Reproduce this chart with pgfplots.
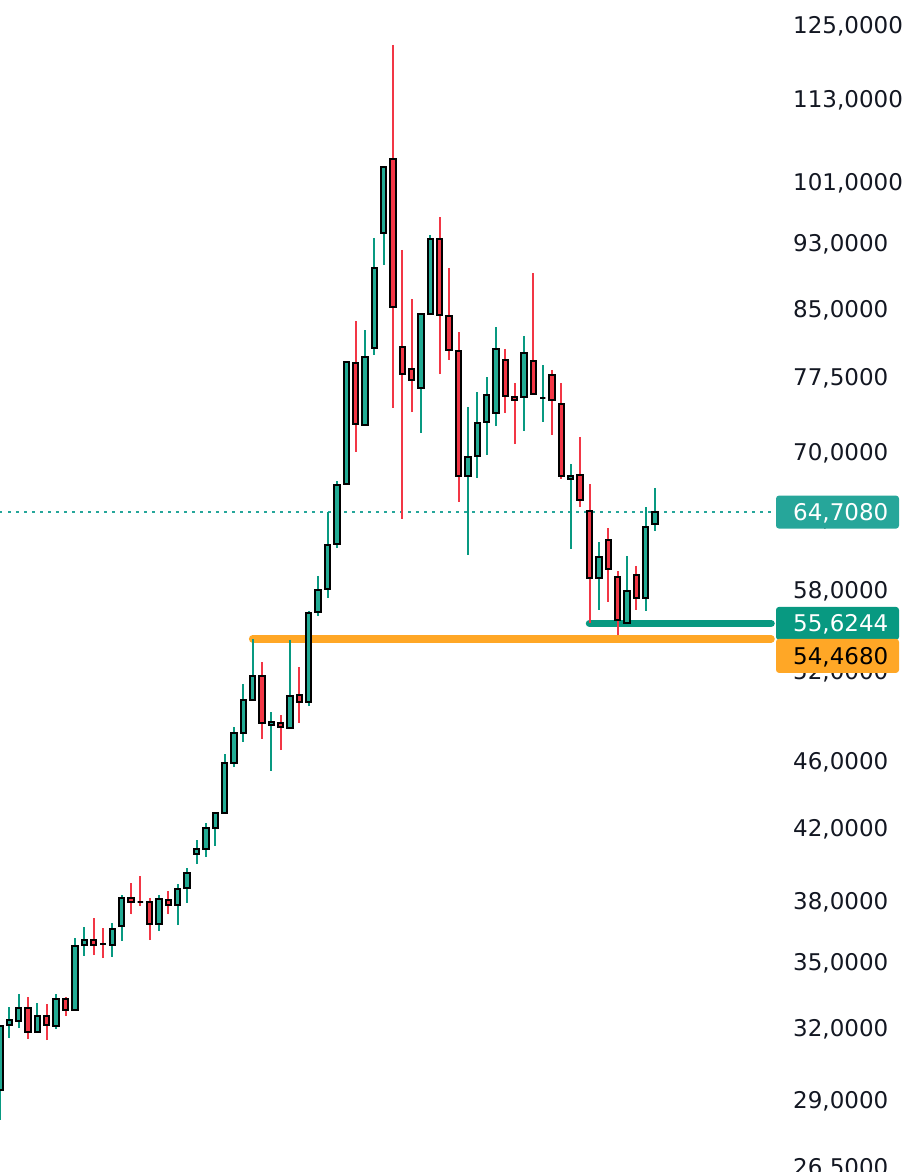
\documentclass[border=0pt]{standalone}
\usepackage{pgfplots}
\pgfplotsset{compat=1.18}
\usepgfplotslibrary{statistics}
\usepackage{fontspec}
\setmainfont{DejaVu Sans}
\definecolor{upfill}{HTML}{22AB94}
\definecolor{upwick}{HTML}{089981}
\definecolor{dnc}{HTML}{F23645}
\definecolor{orng}{HTML}{FFA726}
\definecolor{tickc}{HTML}{131722}
\definecolor{lastc}{HTML}{26A69A}
\pgfplotsset{
  candle/.style={boxplot/draw direction=y, boxplot/box extend=0.57, boxplot/whisker extend=0, draw=black, line width=2pt},
  candleup/.style={candle, fill=upfill, boxplot/every whisker/.style={draw=upwick, line width=2pt}},
  candledn/.style={candle, fill=dnc, boxplot/every whisker/.style={draw=dnc, line width=2pt}},
}
\newcommand{\cu}[5]{\addplot[candleup, boxplot prepared={draw position=#1, lower whisker=#2, lower quartile=#3, median=#4, upper quartile=#4, upper whisker=#5}] coordinates {};}
\newcommand{\cd}[5]{\addplot[candledn, boxplot prepared={draw position=#1, lower whisker=#2, lower quartile=#3, median=#4, upper quartile=#4, upper whisker=#5}] coordinates {};}
\newcommand{\lblfont}{\fontsize{23}{28}\selectfont}
\begin{document}
\begin{tikzpicture}
\begin{axis}[
  name=ax,
  scale only axis, width=920pt, height=1172pt,
  xmin=0, xmax=98.32, ymode=log, ymin=26.40, ymax=129.74,
  axis line style={draw=none}, tick style={draw=none}, xtick=\empty,
  ytick={26.5,29,32,35,38,42,46,52,58,64,70,77.5,85,93,101,113,125},
  yticklabels={{26,5000},{29,0000},{32,0000},{35,0000},{38,0000},{42,0000},{46,0000},{52,0000},{58,0000},{64,0000},{70,0000},{77,5000},{85,0000},{93,0000},{101,0000},{113,0000},{125,0000}},
  yticklabel pos=right,
  yticklabel style={anchor=base west, xshift=-127pt, yshift=-6.1pt, inner sep=0pt, font=\lblfont, text=tickc},
]
\addplot[lastc, line width=2pt, dash pattern=on 2.5pt off 5.5pt] coordinates {(0,64.708) (82.9,64.708)};
\addplot[orng, line width=7.5pt, line cap=round] coordinates {(27,54.468) (82.4,54.468)};
\addplot[upwick, line width=7.5pt, line cap=round] coordinates {(63,55.6244) (82.4,55.6244)};
\cu{0}{28.32}{29.51}{32.19}{32.19}
\cu{1}{31.66}{32.23}{32.45}{33.03}
\cu{2}{32.10}{32.41}{32.98}{33.61}
\cd{3}{31.62}{31.93}{32.98}{33.48}
\cu{4}{31.93}{31.93}{32.63}{33.21}
\cd{5}{31.58}{32.23}{32.63}{33.16}
\cu{6}{32.06}{32.19}{33.39}{33.61}
\cd{7}{32.63}{32.89}{33.39}{33.48}
\cu{8}{32.89}{32.89}{35.88}{36.27}
\cu{9}{35.40}{35.93}{36.17}{36.82}
\cd{10}{35.45}{35.93}{36.17}{37.27}
\cd{11}{35.30}{35.98}{35.98}{36.77}
\cu{12}{35.35}{35.93}{36.72}{37.02}
\cu{13}{36.13}{36.87}{38.30}{38.46}
\cd{14}{37.47}{38.10}{38.30}{39.09}
\cd{15}{37.88}{38.10}{38.10}{39.46}
\cd{16}{36.17}{36.97}{38.10}{38.30}
\cu{17}{36.62}{36.97}{38.25}{38.46}
\cd{18}{37.47}{37.93}{38.20}{38.67}
\cu{19}{36.92}{37.93}{38.77}{39.04}
\cu{20}{38.04}{38.83}{39.62}{39.89}
\cu{21}{40.11}{40.65}{40.93}{41.44}
\cu{22}{40.49}{40.93}{42.12}{42.41}
\cu{23}{41.11}{42.12}{42.99}{43.05}
\cu{24}{42.99}{42.99}{46.01}{46.57}
\cu{25}{45.76}{46.01}{47.93}{48.32}
\cu{26}{47.35}{47.93}{50.12}{51.22}
\cu{27}{50.12}{50.12}{51.78}{54.468}
\cd{28}{47.54}{48.58}{51.78}{52.77}
\cu{29}{45.51}{48.45}{48.65}{49.31}
\cd{30}{46.83}{48.32}{48.58}{49.11}
\cu{31}{48.25}{48.25}{50.40}{54.40}
\cd{32}{48.58}{49.98}{50.47}{52.42}
\cu{33}{49.71}{49.98}{56.42}{56.57}
\cu{34}{56.18}{56.50}{58.20}{59.33}
\cu{35}{57.58}{58.28}{61.87}{64.71}
\cu{36}{61.62}{61.96}{67.13}{67.49}
\cu{37}{67.22}{67.22}{79.34}{79.34}
\cd{38}{70.21}{72.93}{79.23}{83.89}
\cu{39}{72.83}{72.83}{79.88}{82.87}
\cu{40}{80.10}{80.87}{90.15}{93.90}
\cu{41}{90.52}{94.54}{103.41}{103.41}
\cd{42}{74.54}{85.50}{104.53}{122.05}
\cd{43}{64.10}{78.06}{80.98}{92.38}
\cd{44}{74.13}{77.42}{78.59}{86.43}
\cu{45}{72.05}{76.58}{84.69}{84.69}
\cu{46}{84.69}{84.69}{93.77}{94.28}
\cd{47}{78.06}{84.57}{93.77}{96.62}
\cd{48}{79.56}{80.65}{84.46}{90.15}
\cd{49}{65.60}{67.95}{80.53}{82.64}
\cu{50}{61.04}{67.95}{69.73}{74.64}
\cu{51}{67.77}{69.83}{73.03}{76.17}
\cu{52}{69.92}{73.13}{75.86}{77.74}
\cu{53}{72.73}{74.03}{80.76}{83.20}
\cd{54}{74.03}{75.76}{79.56}{80.76}
\cd{55}{70.97}{75.35}{75.66}{77.11}
\cu{56}{72.24}{75.66}{80.31}{82.19}
\cd{57}{75.97}{75.97}{79.45}{89.53}
\cu{58}{73.13}{75.56}{75.56}{79.02}
\cd{59}{71.85}{75.35}{77.96}{78.49}
\cd{60}{67.68}{67.95}{74.94}{77.11}
\cu{61}{61.54}{67.68}{67.95}{69.08}
\cd{62}{65.15}{65.78}{68.04}{71.66}
\cd{63}{55.6244}{59.16}{64.80}{67.22}
\cu{64}{56.65}{59.16}{60.87}{62.12}
\cd{65}{57.27}{59.89}{62.29}{63.32}
\cd{66}{54.75}{55.88}{59.24}{59.73}
\cu{67}{55.6244}{55.6244}{58.13}{60.96}
\cd{68}{56.65}{57.58}{59.41}{60.14}
\cu{69}{56.57}{57.58}{63.41}{65.15}
\cu{70}{63.06}{63.67}{64.708}{66.86}
\coordinate (L1) at (axis cs:82.93,64.708);
\coordinate (L2) at (axis cs:82.93,55.6244);
\coordinate (L3) at (axis cs:82.93,54.468);
\end{axis}
\fill[lastc, rounded corners=3pt] ([yshift=-16.5pt]L1) rectangle ([xshift=123pt,yshift=16.5pt]L1);
\node[anchor=base west, inner sep=0pt, text=white, font=\lblfont] at ([xshift=17pt,yshift=-8pt]L1) {64,7080};
\fill[upwick, rounded corners=3pt] ([yshift=-16.5pt]L2) rectangle ([xshift=123pt,yshift=16.5pt]L2);
\node[anchor=base west, inner sep=0pt, text=white, font=\lblfont] at ([xshift=17pt,yshift=-8.4pt]L2) {55,6244};
\fill[orng, rounded corners=3pt] ([yshift=0pt]L3) rectangle ([xshift=123pt,yshift=-34pt]L3);
\node[anchor=base west, inner sep=0pt, text=black, font=\lblfont] at ([xshift=17pt,yshift=-25.4pt]L3) {54,4680};
\pgfresetboundingbox
\path[use as bounding box] (ax.south west) rectangle (ax.north east);
\end{tikzpicture}
\end{document}
